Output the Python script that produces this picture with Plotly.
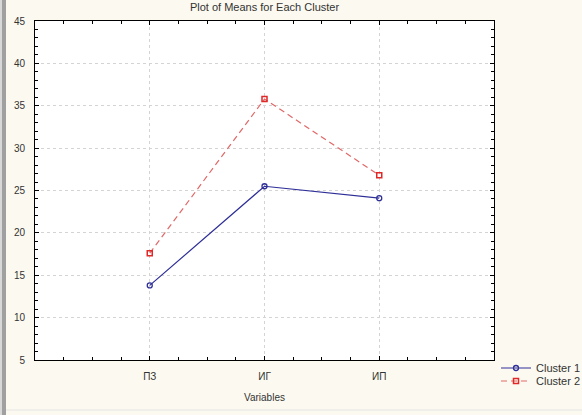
import plotly.graph_objects as go

categories = ["ПЗ", "ИГ", "ИП"]
cluster1 = [13.8, 25.5, 24.1]
cluster2 = [17.6, 35.8, 26.8]
x_pos = [1, 2, 3]
y_ticks = [5, 10, 15, 20, 25, 30, 35, 40, 45]

W, H = 582, 415
ml, mr, mt, mb = 35, 88, 21, 55
pw = W - ml - mr
ph = H - mt - mb

fig = go.Figure()
fig.add_trace(go.Scatter(
    x=x_pos, y=cluster1, name="Cluster 1", mode="lines+markers",
    line=dict(color="#2e2e98", width=1.2),
    marker=dict(symbol="circle-open", size=5, color="#2e2e98", line=dict(width=1.3)),
    legend="legend",
))
fig.add_trace(go.Scatter(
    x=x_pos, y=cluster2, name="Cluster 2", mode="lines+markers",
    line=dict(color="#e06868", width=1.2, dash="6px,4px"),
    marker=dict(symbol="square-open", size=5, color="#e02828", line=dict(width=1.5)),
    legend="legend2",
))

leg_common = dict(xanchor="left", yanchor="middle", bgcolor="rgba(0,0,0,0)",
                  font=dict(size=11, color="#333333"), itemwidth=30)

fig.update_layout(
    width=W, height=H,
    margin=dict(l=ml, r=mr, t=mt, b=mb, pad=0, autoexpand=False),
    paper_bgcolor="#fcfaf0",
    plot_bgcolor="#ffffff",
    font=dict(family="Liberation Sans, Arial", size=10, color="#333333"),
    title=dict(text="Plot of Means for Each Cluster", x=(ml + pw / 2) / W, xanchor="center",
               y=1 - 7 / H, yanchor="middle", font=dict(size=11, color="#333333")),
    showlegend=True,
    legend=dict(x=(496 - ml) / pw, y=1 - (368 - mt) / ph, **leg_common),
    legend2=dict(x=(496 - ml) / pw, y=1 - (381 - mt) / ph, **leg_common),
    shapes=[
        dict(type="rect", xref="paper", yref="paper",
             x0=-ml / pw, x1=(6 - ml) / pw, y0=-mb / ph, y1=1 + mt / ph,
             fillcolor="#a0a0a0", line=dict(width=0), layer="below"),
        dict(type="rect", xref="paper", yref="paper",
             x0=-ml / pw, x1=(2 - ml) / pw, y0=-mb / ph, y1=1 + mt / ph,
             fillcolor="#d8d8d8", line=dict(width=0), layer="below"),
        dict(type="line", xref="paper", yref="paper",
             x0=(6 - ml) / pw, x1=1 + mr / pw, y0=-(mb - 5) / ph, y1=-(mb - 5) / ph,
             line=dict(color="#e4e4e4", width=1), layer="below"),
    ],
)

fig.update_xaxes(
    range=[0, 4], tickvals=x_pos, ticktext=categories,
    showgrid=True, gridcolor="#d4d4d4", griddash="dot", gridwidth=1,
    zeroline=False, showline=True, linecolor="#000000", linewidth=1, mirror="allticks",
    ticks="inside", ticklen=4, tickcolor="#000000",
    minor=dict(dtick=0.25, tick0=0, ticks="inside", ticklen=3, tickcolor="#000000", showgrid=False),
    tickfont=dict(size=10, color="#333333"), ticklabelstandoff=7,
    title=dict(text="Variables", font=dict(size=10, color="#333333"), standoff=12),
)
fig.update_yaxes(
    range=[5, 45], tickvals=y_ticks,
    showgrid=True, gridcolor="#d4d4d4", griddash="dot", gridwidth=1,
    zeroline=False, showline=True, linecolor="#000000", linewidth=1, mirror="allticks",
    ticks="inside", ticklen=4, tickcolor="#000000",
    minor=dict(dtick=1, tick0=5, ticks="inside", ticklen=3, tickcolor="#000000", showgrid=False),
    tickfont=dict(size=10, color="#333333"), ticklabelstandoff=7,
)

fig.write_html("out.html", config={"displayModeBar": False},
               post_script="document.body.style.margin='0';document.body.style.overflow='hidden';")
